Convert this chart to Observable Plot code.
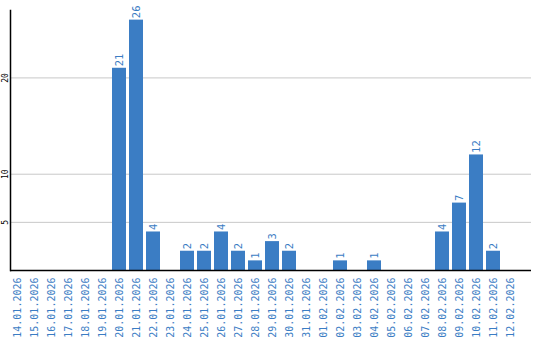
<!DOCTYPE html>
<html>
<head>
<meta charset="utf-8">
<script src="https://cdn.jsdelivr.net/npm/d3@7"></script>
<script src="https://cdn.jsdelivr.net/npm/@observablehq/plot@0.6"></script>
<style>
  html, body { margin: 0; padding: 0; background: #fff; }
  #chart svg { display: block; }
</style>
</head>
<body>
<div id="chart"></div>
<script>
const dates = [
  "14.01.2026","15.01.2026","16.01.2026","17.01.2026","18.01.2026","19.01.2026",
  "20.01.2026","21.01.2026","22.01.2026","23.01.2026","24.01.2026","25.01.2026",
  "26.01.2026","27.01.2026","28.01.2026","29.01.2026","30.01.2026","31.01.2026",
  "01.02.2026","02.02.2026","03.02.2026","04.02.2026","05.02.2026","06.02.2026",
  "07.02.2026","08.02.2026","09.02.2026","10.02.2026","11.02.2026","12.02.2026"
];
const values = [
  0, 0, 0, 0, 0, 0,
  21, 26, 4, 0, 2, 2,
  4, 2, 1, 3, 2, 0,
  0, 1, 0, 1, 0, 0,
  0, 4, 7, 12, 2, 0
];
const yTicks = [5, 10, 20];

const data = dates.map((d, i) => ({date: d, value: values[i]}));
const blue = "#3b7dc4";
const font = "DejaVu Sans Mono, monospace";

const chart = Plot.plot({
  width: 540,
  height: 340,
  marginLeft: 10,
  marginRight: 9,
  marginTop: 10,
  marginBottom: 70,
  style: {fontFamily: font, background: "#fff"},
  x: {domain: dates, paddingInner: 3 / 17, paddingOuter: 0.4115, align: 0, axis: null},
  y: {domain: [0, 27], axis: null},
  marks: [
    Plot.ruleY(yTicks, {stroke: "#c8c8c8", strokeWidth: 1}),
    Plot.barY(data.filter(d => d.value > 0), {x: "date", y: "value", fill: blue}),
    Plot.text(data.filter(d => d.value > 0), {
      x: "date", y: "value", text: d => String(d.value),
      rotate: -90, textAnchor: "start", lineAnchor: "middle",
      dy: -2, fill: blue, fontSize: 10.5, fontFamily: font
    }),
    Plot.text(yTicks, {
      y: d => d, text: d => String(d), frameAnchor: "left", dx: -5.5,
      rotate: -90, textAnchor: "middle", lineAnchor: "middle",
      fill: "#000", fontSize: 8, fontFamily: font
    }),
    Plot.axisX({
      anchor: "bottom", tickSize: 0, tickPadding: 7, tickRotate: -90,
      fill: blue, fontSize: 10, fontFamily: font, label: null
    }),
    Plot.ruleY([0], {stroke: "#000", strokeWidth: 1.5}),
    Plot.frame({anchor: "left", stroke: "#000", strokeWidth: 1.5})
  ]
});
document.getElementById("chart").appendChild(chart);
</script>
</body>
</html>
